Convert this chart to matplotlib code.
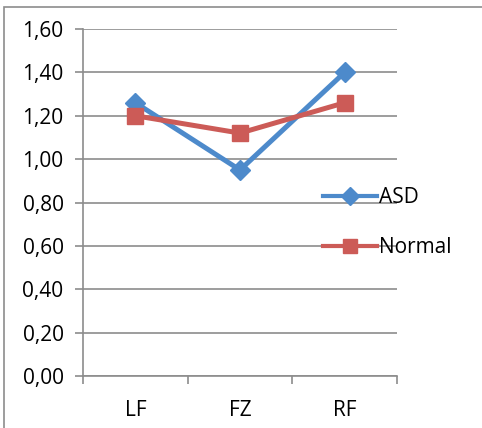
import numpy as np
import matplotlib
matplotlib.use("Agg")
import matplotlib.pyplot as plt
from matplotlib.patches import Rectangle

# data
categories = ["LF", "FZ", "RF"]
asd = [1.26, 0.95, 1.40]
normal = [1.20, 1.12, 1.26]
yticks = [0.0, 0.2, 0.4, 0.6, 0.8, 1.0, 1.2, 1.4, 1.6]

blue = "#4D8ACB"
red = "#CC5B57"
grey = "#8C8C8C"

plt.rcParams["font.family"] = ["Open Sans", "DejaVu Sans"]
fs = 15

fig = plt.figure(figsize=(4.82, 4.28), dpi=100)
fig.patches.append(Rectangle((4 / 482, -0.1), 1.2, 1 - 7 / 428 + 0.1,
                             transform=fig.transFigure, fill=False,
                             edgecolor=grey, linewidth=1.2))
ax = fig.add_axes([83 / 482, 1 - 376 / 428, 314 / 482, 347 / 428])

x = np.arange(len(categories))
ax.plot(x, asd, color=blue, linewidth=3.6, marker="D", markersize=10,
        label="ASD", zorder=3)
ax.plot(x, normal, color=red, linewidth=3.6, marker="s", markersize=11,
        label="Normal", zorder=3)

ax.set_xlim(-0.5, 2.5)
ax.set_ylim(0, 1.6)
ax.set_yticks(yticks)
ax.set_yticklabels([f"{v:.2f}".replace(".", ",") for v in yticks], fontsize=fs)
ax.set_xticks(x)
ax.set_xticklabels(categories, fontsize=fs)
ax.tick_params(axis="x", length=0, pad=17)
ax.set_xticks([-0.5, 0.5, 1.5, 2.5], minor=True)
ax.tick_params(axis="x", which="minor", length=6, direction="out", color=grey, width=1.2)
ax.tick_params(axis="y", length=6, color=grey, width=1.2, pad=8)

ax.grid(axis="y", color=grey, linewidth=1.2)
ax.set_axisbelow(True)
for s in ["top", "right"]:
    ax.spines[s].set_visible(False)
for s in ["left", "bottom"]:
    ax.spines[s].set_color(grey)
    ax.spines[s].set_linewidth(1.2)

leg = ax.legend(loc="upper left", bbox_to_anchor=(323 / 482, 1 - 187 / 428),
                bbox_transform=fig.transFigure, frameon=False, fontsize=fs,
                handlelength=2.6, handletextpad=0.1, labelspacing=1.4,
                borderaxespad=0, borderpad=0, markerscale=0.9)
for line in leg.get_lines():
    line.set_linewidth(3)

fig.savefig("out.png", dpi=100)
